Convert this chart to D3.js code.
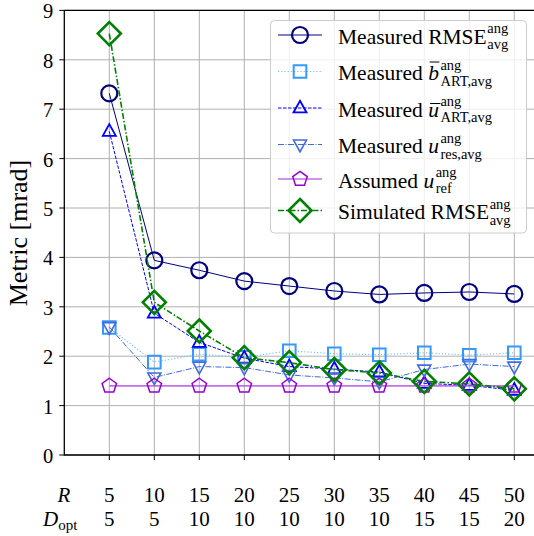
<!DOCTYPE html>
<html>
<head>
<meta charset="utf-8">
<script src="https://cdn.jsdelivr.net/npm/d3@7"></script>
<style>
  body{margin:0;background:#fff;}
</style>
</head>
<body>
<div id="chart"></div>
<script>
// values
const R = [5, 10, 15, 20, 25, 30, 35, 40, 45, 50];
const Dopt = [5, 5, 10, 10, 10, 10, 10, 15, 15, 20];
const rmseMeasured = [7.32, 3.94, 3.74, 3.52, 3.42, 3.32, 3.25, 3.28, 3.30, 3.26];
const bArtMeasured = [2.58, 1.88, 2.04, 1.98, 2.11, 2.05, 2.03, 2.07, 2.02, 2.07];
const uArtMeasured = [6.55, 2.87, 2.28, 1.96, 1.79, 1.74, 1.68, 1.45, 1.41, 1.31];
const uResMeasured = [2.59, 1.57, 1.79, 1.77, 1.62, 1.56, 1.48, 1.73, 1.84, 1.79];
const uRefAssumed = [1.40, 1.40, 1.40, 1.40, 1.40, 1.40, 1.40, 1.40, 1.40, 1.40];
const rmseSimulated = [8.53, 3.09, 2.51, 1.97, 1.87, 1.73, 1.66, 1.49, 1.44, 1.34];
const yTicks = [0, 1, 2, 3, 4, 5, 6, 7, 8, 9];

(function(){
    let W=534,H=536;
    let FONT="'Liberation Serif','DejaVu Serif',serif";
    let svg=d3.select("#chart").append("svg").attr("width",W).attr("height",H)
        .attr("font-family",FONT);
    let x=d3.scaleLinear().domain([0,52.5]).range([64.3,536.8]);
    let y=d3.scaleLinear().domain([0,9]).range([455,10.4]);

    // grid
    let grid=svg.append("g");
    yTicks.forEach(function(t){
        grid.append("line").attr("x1",x(0)).attr("x2",W).attr("y1",y(t)).attr("y2",y(t))
            .attr("stroke","#b0b0b0").attr("stroke-width",1);
    });
    R.forEach(function(t){
        grid.append("line").attr("x1",x(t)).attr("x2",x(t)).attr("y1",y(0)).attr("y2",y(9))
            .attr("stroke","#b0b0b0").attr("stroke-width",1);
    });

    // symbols
    function pentagon(r){
        let pts=[];
        for(let i=0;i<5;i++){
            let a=-Math.PI/2+i*2*Math.PI/5;
            pts.push([r*Math.cos(a),r*Math.sin(a)]);
        }
        return "M"+pts.map(function(p){return p[0].toFixed(2)+","+p[1].toFixed(2)}).join("L")+"Z";
    }
    function triangle(s,down){
        let h=s*0.9;
        let k=down?-1:1;
        return "M0,"+(-k*h*0.62)+"L"+(s/2)+","+(k*h*0.38)+"L"+(-s/2)+","+(k*h*0.38)+"Z";
    }
    let series=[
        {data:rmseMeasured,color:"#000080",lineColor:"#000080",lw:1,dash:null,
         mk:d3.symbol().type(d3.symbolCircle).size(Math.PI*8*8)(),mw:2.2,lineOpacity:1},
        {data:bArtMeasured,color:"#3399ff",lineColor:"#7cc0ff",lw:1.2,dash:"1.2,2",
         mk:"M-6.3,-6.3H6.3V6.3H-6.3Z",mw:2,lineOpacity:1},
        {data:uArtMeasured,color:"#0000ff",lineColor:"#0000ff",lw:1,dash:"3.5,1.5",
         mk:triangle(13,false),mw:1.8,lineOpacity:1},
        {data:uResMeasured,color:"#4169e1",lineColor:"#4169e1",lw:1,dash:"6,1.5,1,1.5",
         mk:triangle(13,true),mw:1.6,lineOpacity:1},
        {data:uRefAssumed,color:"#9400d3",lineColor:"#b44be1",lw:1.6,dash:null,
         mk:pentagon(7.6),mw:1.5,lineOpacity:0.8},
        {data:rmseSimulated,color:"#008000",lineColor:"#008000",lw:1.6,dash:"6,2,1.5,2",
         mk:"M0,-11.5L11.5,0L0,11.5L-11.5,0Z",mw:2.6,lineOpacity:1}
    ];
    let line=d3.line().x(function(d,i){return x(R[i])}).y(function(d){return y(d)});
    let marks=svg.append("g");
    series.forEach(function(s){
        marks.append("path").attr("d",line(s.data)).attr("fill","none")
            .attr("stroke",s.lineColor).attr("stroke-width",s.lw)
            .attr("stroke-opacity",s.lineOpacity)
            .attr("stroke-dasharray",s.dash);
        marks.selectAll(null).data(s.data).enter().append("path")
            .attr("d",s.mk)
            .attr("transform",function(d,i){return "translate("+x(R[i])+","+y(d)+")"})
            .attr("fill","none").attr("stroke",s.color).attr("stroke-width",s.mw);
    });

    // axes
    let ax=svg.append("g").attr("stroke","#000");
    ax.append("line").attr("x1",x(0)).attr("x2",x(0)).attr("y1",y(0)+0.5).attr("y2",y(9)-0.5).attr("stroke-width",1.3);
    ax.append("line").attr("x1",x(0)).attr("x2",W).attr("y1",y(0)).attr("y2",y(0)).attr("stroke-width",1.3);
    ax.append("line").attr("x1",x(0)).attr("x2",W).attr("y1",y(9)).attr("y2",y(9)).attr("stroke-width",1.3);
    yTicks.forEach(function(t){
        ax.append("line").attr("x1",x(0)-5).attr("x2",x(0)).attr("y1",y(t)).attr("y2",y(t)).attr("stroke-width",1);
        svg.append("text").attr("x",x(0)-11).attr("y",y(t)+8).attr("text-anchor","end")
            .attr("font-size",20.5).text(t);
    });
    R.forEach(function(t,i){
        ax.append("line").attr("x1",x(t)).attr("x2",x(t)).attr("y1",y(0)).attr("y2",y(0)+5).attr("stroke-width",1);
        svg.append("text").attr("x",x(t)).attr("y",502).attr("text-anchor","middle")
            .attr("font-size",21).text(t);
        svg.append("text").attr("x",x(t)).attr("y",526).attr("text-anchor","middle")
            .attr("font-size",21).text(Dopt[i]);
    });
    svg.append("text").attr("x",64).attr("y",502).attr("text-anchor","middle")
        .attr("font-size",21).attr("font-style","italic").text("R");
    let dl=svg.append("text").attr("x",43).attr("y",526).attr("font-size",21);
    dl.append("tspan").attr("font-style","italic").text("D");
    dl.append("tspan").attr("font-size",15).attr("dy",4).text("opt");

    svg.append("text").attr("transform","translate(27,233) rotate(-90)")
        .attr("text-anchor","middle").attr("font-size",26).text("Metric [mrad]");

    // legend
    let lg=svg.append("g");
    lg.append("rect").attr("x",270.5).attr("y",20.5).attr("width",256).attr("height",212.5)
        .attr("rx",4).attr("fill","#fff").attr("fill-opacity",0.8)
        .attr("stroke","#cccccc").attr("stroke-width",1);
    let entries=[
        {pre:"Measured ",sym:"",bar:false,main:"RMSE",sup:"ang",sub:"avg",italic:false},
        {pre:"Measured ",sym:"b",bar:true,main:"",sup:"ang",sub:"ART,avg",italic:true},
        {pre:"Measured ",sym:"u",bar:true,main:"",sup:"ang",sub:"ART,avg",italic:true},
        {pre:"Measured ",sym:"u",bar:false,main:"",sup:"ang",sub:"res,avg",italic:true},
        {pre:"Assumed ",sym:"u",bar:false,main:"",sup:"ang",sub:"ref",italic:true},
        {pre:"Simulated ",sym:"",bar:false,main:"RMSE",sup:"ang",sub:"avg",italic:false}
    ];
    let rowY=[35,71.5,108,144.5,179,210.5];
    entries.forEach(function(e,i){
        let s=series[i];
        let cy=rowY[i];
        lg.append("line").attr("x1",278).attr("x2",322).attr("y1",cy).attr("y2",cy)
            .attr("stroke",s.lineColor).attr("stroke-width",s.lw)
            .attr("stroke-opacity",s.lineOpacity).attr("stroke-dasharray",s.dash);
        lg.append("path").attr("d",s.mk).attr("transform","translate(300,"+cy+")")
            .attr("fill","none").attr("stroke",s.color).attr("stroke-width",s.mw);
        let base=cy+8.5;
        let t=lg.append("text").attr("x",338).attr("y",base).attr("font-size",21.5);
        t.append("tspan").text(e.pre);
        let symSpan=null;
        if(e.sym){symSpan=t.append("tspan").attr("font-style","italic").text(e.sym);}
        if(e.main){t.append("tspan").text(e.main);}
        let w=t.node().getComputedTextLength();
        if(symSpan&&e.bar){
            let ext=symSpan.node().getExtentOfChar(0);
            let top=e.sym==="b"?base-18:base-13;
            lg.append("line").attr("x1",ext.x+(e.sym==="b"?1.5:2)).attr("x2",ext.x+ext.width+(e.sym==="b"?0.5:1.5))
                .attr("y1",top).attr("y2",top).attr("stroke","#000").attr("stroke-width",1);
        }
        // stacked super- and subscript
        let sx=338+w+(e.italic?1.5:0.5);
        lg.append("text").attr("x",sx).attr("y",base-10.5).attr("font-size",14.5).text(e.sup);
        lg.append("text").attr("x",sx).attr("y",base+5.5).attr("font-size",14.5).text(e.sub);
    });
})();
</script>
</body>
</html>
